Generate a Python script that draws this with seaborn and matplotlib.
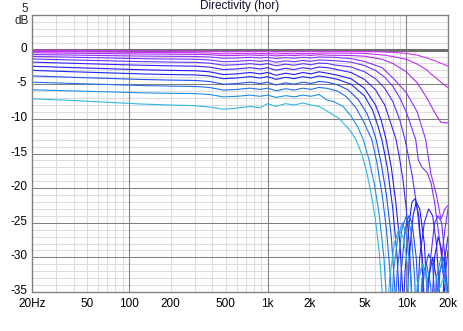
import numpy as np
import pandas as pd
import matplotlib
matplotlib.use("Agg")
import matplotlib.pyplot as plt
import matplotlib.transforms as mtransforms
import seaborn as sns

# ---------------- data ----------------
freq_mid = [20, 40, 70, 120, 200, 300, 380, 480, 600, 750, 880, 1000, 1150, 1350, 1550, 1800, 2050, 2350]

mid_c01 = [-0.08, -0.12, -0.15, -0.18, -0.2, -0.21, -0.24, -0.32, -0.3, -0.26, -0.3, -0.26, -0.34, -0.28, -0.32, -0.26, -0.3, -0.24]
mid_c02 = [-0.25, -0.31, -0.35, -0.4, -0.43, -0.45, -0.49, -0.61, -0.58, -0.52, -0.58, -0.52, -0.64, -0.55, -0.61, -0.52, -0.58, -0.49]
mid_c03 = [-0.45, -0.52, -0.57, -0.63, -0.66, -0.68, -0.73, -0.87, -0.84, -0.77, -0.84, -0.77, -0.91, -0.8, -0.87, -0.77, -0.84, -0.73]
mid_c04 = [-0.7, -0.79, -0.86, -0.93, -0.97, -0.99, -1.06, -1.24, -1.2, -1.11, -1.2, -1.11, -1.29, -1.15, -1.24, -1.11, -1.2, -1.06]
mid_c05 = [-0.97, -1.1, -1.2, -1.3, -1.36, -1.39, -1.49, -1.75, -1.69, -1.56, -1.69, -1.56, -1.82, -1.62, -1.75, -1.56, -1.69, -1.49]
mid_c06 = [-1.35, -1.5, -1.61, -1.73, -1.8, -1.84, -1.95, -2.25, -2.18, -2.03, -2.18, -2.03, -2.33, -2.1, -2.25, -2.03, -2.18, -1.95]
mid_c07 = [-1.8, -1.98, -2.12, -2.25, -2.34, -2.39, -2.52, -2.88, -2.79, -2.61, -2.79, -2.61, -2.97, -2.7, -2.88, -2.61, -2.79, -2.52]
mid_c08 = [-2.4, -2.6, -2.75, -2.9, -3.0, -3.05, -3.2, -3.6, -3.5, -3.3, -3.5, -3.3, -3.7, -3.4, -3.6, -3.3, -3.5, -3.2]
mid_c09 = [-3.0, -3.2, -3.35, -3.5, -3.6, -3.65, -3.8, -4.2, -4.1, -3.9, -4.1, -3.9, -4.3, -4.0, -4.2, -3.9, -4.1, -3.8]
mid_c10 = [-3.8, -4.0, -4.15, -4.3, -4.4, -4.45, -4.6, -5.0, -4.9, -4.7, -4.9, -4.7, -5.1, -4.8, -5.0, -4.7, -4.9, -4.6]
mid_c11 = [-4.7, -4.89, -5.03, -5.18, -5.27, -5.32, -5.46, -5.84, -5.75, -5.56, -5.75, -5.56, -5.94, -5.65, -5.84, -5.56, -5.75, -5.46]
mid_c12 = [-5.8, -5.97, -6.1, -6.23, -6.31, -6.35, -6.48, -6.82, -6.74, -6.57, -6.74, -6.57, -6.9, -6.65, -6.82, -6.57, -6.74, -6.48]
mid_c13 = [-7.1, -7.35, -7.6, -7.85, -8.0, -8.1, -8.3, -8.6, -8.45, -8.2, -8.4, -7.8, -8.2, -7.8, -8.0, -7.7, -8.0, -8.2]

hf_hz_c01 = [2700, 4000, 6000, 8000, 10000, 12000, 14000, 16000, 18000, 20000]
hf_db_c01 = [-0.25, -0.28, -0.3, -0.4, -0.55, -0.8, -1.2, -1.6, -2.0, -2.4]
hf_hz_c02 = [2700, 4000, 5000, 7000, 8000, 10000, 12000, 14000, 15000, 16000, 18000, 20000]
hf_db_c02 = [-0.5, -0.52, -0.55, -0.8, -1.0, -1.4, -2.1, -2.9, -3.5, -3.9, -4.8, -5.5]
hf_hz_c03 = [2700, 4000, 5000, 6700, 8000, 10000, 12000, 13800, 15000, 16500, 17800, 20000]
hf_db_c03 = [-0.8, -0.85, -0.95, -1.4, -2.0, -3.2, -4.8, -6.7, -8.0, -9.5, -10.5, -10.6]
hf_hz_c04 = [2700, 3000, 4000, 5000, 6700, 8200, 10000, 12000, 13800, 15000, 16500, 17800, 19000, 20000]
hf_db_c04 = [-1.1, -1.1, -1.3, -1.7, -2.6, -4.3, -6.2, -9.0, -13.0, -17.8, -21.0, -24.5, -23.0, -22.5]
hf_hz_c05 = [2700, 3000, 4000, 5000, 6000, 7000, 8000, 9000, 10000, 11700, 12200, 13000, 14200, 15100, 16000, 17000, 18000, 19000, 20000]
hf_db_c05 = [-1.55, -1.6, -1.8, -2.3, -3.0, -4.0, -5.3, -7.0, -9.0, -13.0, -15.9, -17.0, -17.8, -19.3, -22.0, -26.0, -30.0, -26.0, -23.0]
hf_hz_c06 = [2700, 3000, 4000, 5000, 6000, 7000, 8000, 9000, 9800, 10500, 11000, 12000, 13000, 13800, 15000, 16000, 17000, 18000, 19000, 20000]
hf_db_c06 = [-2.0, -2.2, -2.5, -3.2, -4.2, -5.6, -7.5, -10.2, -13.0, -16.0, -18.0, -23.0, -30.0, -40.0, -30.0, -25.0, -24.0, -25.0, -30.0, -36.0]
hf_hz_c07 = [2700, 3200, 4000, 5000, 6000, 7000, 8450, 9000, 9500, 10000, 10500, 11000, 11500, 12500, 13500, 14500, 15500, 16500, 17500, 18000, 19000, 20000]
hf_db_c07 = [-2.6, -2.9, -3.3, -4.3, -5.8, -8.0, -13.0, -16.0, -19.0, -23.0, -28.0, -36.0, -45.0, -30.0, -25.0, -23.0, -24.0, -28.0, -36.0, -45.0, -33.0, -29.0]
hf_hz_c08 = [2700, 3200, 4000, 5000, 6000, 6600, 7160, 7800, 8400, 9000, 9500, 9800, 10500, 11200, 11800, 12500, 13500, 14200, 14600, 16000, 17000, 18000, 19000, 20000]
hf_db_c08 = [-3.4, -3.7, -4.2, -5.6, -8.0, -10.2, -13.0, -17.0, -22.0, -28.0, -36.0, -45.0, -30.0, -24.0, -22.0, -23.0, -28.0, -36.0, -45.0, -30.0, -27.0, -29.0, -36.0, -45.0]
hf_hz_c09 = [2700, 3200, 4000, 5000, 5700, 6200, 6670, 7300, 8000, 8600, 9000, 9200, 9800, 10500, 11000, 11600, 12300, 13000, 13500, 14500, 15500, 16500, 17500, 19000, 20000]
hf_db_c09 = [-4.0, -4.3, -5.0, -6.7, -8.7, -10.8, -13.0, -17.0, -23.0, -30.0, -38.0, -45.0, -32.0, -25.0, -22.0, -21.5, -24.0, -30.0, -40.0, -33.0, -30.0, -33.0, -45.0, -30.0, -27.0]
hf_hz_c10 = [2700, 3200, 3800, 4500, 5200, 5700, 6070, 6600, 7200, 7800, 8300, 8600, 9200, 9800, 10400, 11000, 11800, 12500, 13500, 14500, 15500, 16500, 17500, 18500, 20000]
hf_db_c10 = [-4.7, -5.1, -5.8, -7.2, -9.2, -11.3, -13.0, -16.5, -21.0, -27.0, -35.0, -45.0, -32.0, -26.0, -24.0, -25.0, -30.0, -40.0, -32.0, -29.5, -31.0, -40.0, -32.0, -30.0, -35.0]
hf_hz_c11 = [2700, 3200, 3700, 4300, 4900, 5300, 5650, 6100, 6700, 7200, 7700, 8000, 8600, 9300, 10000, 10800, 11500, 12000, 13000, 14000, 15000, 15800, 17000, 18000, 20000]
hf_db_c11 = [-5.6, -6.0, -6.8, -8.3, -10.3, -11.8, -13.0, -16.0, -21.0, -26.0, -33.0, -45.0, -32.0, -26.0, -24.0, -26.0, -33.0, -45.0, -33.0, -31.0, -34.0, -45.0, -33.0, -31.0, -36.0]
hf_hz_c12 = [2700, 3000, 3500, 4000, 4500, 4900, 5400, 5900, 6400, 6900, 7300, 7500, 8100, 8700, 9400, 10100, 10800, 11300, 12300, 13200, 14200, 15000, 16500, 17800, 19000, 20000]
hf_db_c12 = [-7.3, -7.5, -8.2, -9.6, -11.3, -13.0, -16.0, -19.5, -24.0, -30.0, -38.0, -45.0, -32.0, -27.0, -25.0, -27.0, -33.0, -45.0, -33.0, -31.0, -33.0, -45.0, -33.0, -30.0, -32.0, -38.0]
hf_hz_c13 = [2700, 3300, 3900, 4340, 4800, 5200, 5600, 6000, 6400, 6700, 6900, 7600, 8200, 8800, 9500, 10200, 10800, 12000, 13000, 14000, 15000, 17000, 18500, 20000]
hf_db_c13 = [-8.9, -10.0, -11.6, -13.0, -15.2, -17.8, -21.0, -24.6, -29.5, -35.0, -45.0, -33.0, -28.0, -26.0, -27.0, -31.0, -45.0, -34.0, -31.0, -33.0, -45.0, -35.0, -33.0, -36.0]

reference_hz = [20, 20000]
reference_db = [0, 0]

curve_colors = ['#d633f5', '#c22ef7', '#aa2afa', '#9030ff', '#7a30ff', '#6030ff', '#4020ff',
                '#2a18f5', '#1a28f0', '#2050f0', '#2070ea', '#2090e4', '#30b8e0']

x_tick_values = [20, 50, 100, 200, 500, 1000, 2000, 5000, 10000, 20000]
x_tick_labels = ["20Hz", "50", "100", "200", "500", "1k", "2k", "5k", "10k", "20k"]
y_tick_values = [-35, -30, -25, -20, -15, -10, -5, 0]
y_tick_labels = ["-35", "-30", "-25", "-20", "-15", "-10", "-5", "0"]
title_text = "Directivity (hor)"

mids = [mid_c01, mid_c02, mid_c03, mid_c04, mid_c05, mid_c06, mid_c07, mid_c08, mid_c09, mid_c10, mid_c11, mid_c12, mid_c13]
hf_hz = [hf_hz_c01, hf_hz_c02, hf_hz_c03, hf_hz_c04, hf_hz_c05, hf_hz_c06, hf_hz_c07, hf_hz_c08, hf_hz_c09, hf_hz_c10, hf_hz_c11, hf_hz_c12, hf_hz_c13]
hf_db = [hf_db_c01, hf_db_c02, hf_db_c03, hf_db_c04, hf_db_c05, hf_db_c06, hf_db_c07, hf_db_c08, hf_db_c09, hf_db_c10, hf_db_c11, hf_db_c12, hf_db_c13]

rows = []
for i in range(len(mids)):
    for f, d in zip(freq_mid + hf_hz[i], mids[i] + hf_db[i]):
        rows.append({"curve": f"c{i+1:02d}", "hz": f, "db": d})
df = pd.DataFrame(rows)
ref_df = pd.DataFrame({"hz": reference_hz, "db": reference_db})

# ---------------- figure ----------------
sns.set_style("white")
plt.rcParams['font.family'] = ['Liberation Sans', 'DejaVu Sans']

fig = plt.figure(figsize=(4.64, 3.31), dpi=100)
ax = fig.add_axes([32 / 464, 39 / 331, 416 / 464, 277 / 331])
ax.set_xscale("log")
ax.set_xlim(20, 20000)
ax.set_ylim(-35, 5)

light = '#dcdcdc'
dark = '#808080'
glw = 0.75
for dec in [10, 100, 1000]:
    for m in range(2, 10):
        f = dec * m
        if 20 < f < 20000:
            ax.axvline(f, color=light, lw=glw, zorder=0)
for f in [100, 1000, 10000]:
    ax.axvline(f, color=dark, lw=glw, zorder=0.5)
for v in range(-34, 5):
    if v % 5 != 0:
        ax.axhline(v, color=light, lw=glw, zorder=0)
for v in range(-30, 5, 5):
    ax.axhline(v, color=dark, lw=glw, zorder=0.5)

sns.lineplot(data=ref_df, x="hz", y="db", color='#6e6e6e', linewidth=2.2, ax=ax, zorder=1)
sns.lineplot(data=df, x="hz", y="db", hue="curve", palette=curve_colors, estimator=None,
             sort=False, legend=False, linewidth=0.8, ax=ax, zorder=2)

for s in ax.spines.values():
    s.set_color(dark)
    s.set_linewidth(1.0)

ax.set_xticks(x_tick_values)
ax.set_xticklabels(x_tick_labels)
ax.set_xticks([], minor=True)
ax.set_yticks(y_tick_values)
ax.set_yticklabels(y_tick_labels)
ax.tick_params(axis='both', length=0, labelsize=8.5, colors='black')
ax.tick_params(axis='x', pad=4.2)
ax.tick_params(axis='y', pad=3.5)
ax.set_xlabel("")
ax.set_ylabel("")

# nudge y labels slightly upward as in the reference
shift_up = mtransforms.ScaledTranslation(0, 2.5 / 100, fig.dpi_scale_trans)
for lab in ax.get_yticklabels():
    lab.set_transform(lab.get_transform() + shift_up)

fig.text(28.5 / 464, 1 - 8.5 / 331, "5", ha='right', va='center', fontsize=8.5)
fig.text(28.5 / 464, 1 - 21 / 331, "dB", ha='right', va='center', fontsize=8.5)
fig.text(240 / 464, 1 - 6.5 / 331, title_text, ha='center', va='center', fontsize=8.5, color='#101030')

fig.savefig("out.png", dpi=100)
